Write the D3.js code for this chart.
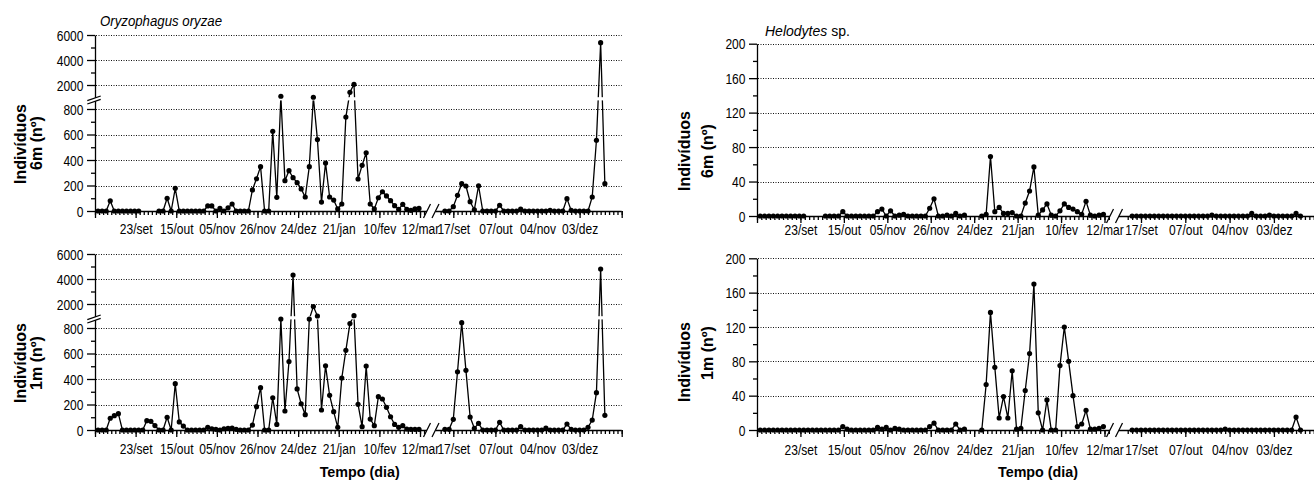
<!DOCTYPE html>
<html>
<head>
<meta charset="utf-8">
<title>Oryzophagus / Helodytes</title>
<script src="https://cdnjs.cloudflare.com/ajax/libs/d3/7.8.5/d3.min.js"></script>
<style>
    body {
        margin: 0px;
        background: white;
    }

    svg {
        font-family: "Liberation Sans", Arial, sans-serif;
    }

    .grid {
        stroke: #111;
        stroke-width: 1;
        stroke-dasharray: 1, 1.5;
    }

    .serie {
        fill: none;
        stroke: black;
        stroke-width: 1.3;
    }

    .axis path,
    .axis line,
    .eixo {
        stroke: black;
        stroke-width: 1.3;
    }

    .axis text {
        fill: black;
        font-size: 14.5px;
    }

    .rotulo {
        font-weight: bold;
        font-size: 16px;
    }
</style>
</head>

<body>
<svg id="chart" width="1314" height="482"></svg>

<script>
    // rotulos do eixo x (coleta 10, 20, ... do 1o periodo; 2, 12, ... do 2o)
    var labels1 = ["23/set", "15/out", "05/nov", "26/nov", "24/dez", "21/jan", "10/fev", "12/mar"]
    var labels2 = ["17/set", "07/out", "04/nov", "03/dez"]

    // Oryzophagus oryzae - 6m, periodo 1 (80 coletas) e periodo 2 (39 coletas)
    var oryza6m_a = [0, 0, 0, 80, 0, 0, 0, 0, 0, 0, 0, null, null, null, null,
        0, 0, 100, 0, 178, 0, 0, 0, 0, 0, 0, 0, 40, 40, 0, 20, 0, 25, 55, 0, 0, 0, 0,
        165, 253, 348, 0, 0, 625, 107, 1100, 238, 316, 261, 222, 173, 110, 348,
        1020, 560, 70, 376, 110, 86, 16, 55, 737, 1416, 2056, 251, 358, 457, 55, 16,
        104, 151, 118, 81, 42, 13, 52, 13, 5, 16, 20]
    var oryza6m_b = [0, 0, 34, 123, 214, 196, 73, 10, 198, 0, 0, 0, 0, 45, 0, 0, 0, 0, 15,
        0, 0, 0, 0, 0, 0, 5, 0, 0, 0, 97, 5, 0, 0, 0, 0, 110, 555, 5384, 214]

    // Oryzophagus oryzae - 1m
    var oryza1m_a = [0, 0, 0, 92, 112, 128, 0, 0, 0, 0, 0, 0, 73, 68, 35, 0, 0, 100, 0, 363,
        63, 31, 0, 0, 0, 0, 0, 21, 10, 5, 0, 10, 12, 15, 5, 0, 0, 0, 39, 183, 332, 0, 0,
        253, 44, 870, 149, 537, 4320, 322, 206, 120, 870, 1800, 1040, 157, 503, 272,
        144, 21, 408, 625, 835, 1064, 201, 26, 502, 86, 34, 261, 243, 178, 104, 44, 21,
        34, 8, 5, 5, 5]
    var oryza1m_b = [5, 5, 84, 457, 842, 468, 102, 13, 52, 0, 0, 0, 0, 60, 0, 0, 0, 0, 26,
        0, 0, 0, 0, 0, 15, 0, 0, 0, 0, 47, 5, 0, 0, 0, 21, 78, 293, 4800, 115]

    // Helodytes sp. - 6m
    var helo6m_a = [0, 0, 0, 0, 0, 0, 0, 0, 0, 0, 0, null, null, null, null,
        0, 0, 0, 0, 5, 0, 0, 0, 0, 0, 0, 0, 5, 8, 0, 6, 0, 1, 2, 0, 0, 0, 0, 0, 9, 20,
        0, 0, 1, 0, 3, 0, 1, null, null, null, 0, 2, 69, 5, 10, 3, 3, 4, 0, 0, 15, 29,
        57, 1, 7, 14, 1, 0, 6, 14, 10, 8, 5, 2, 17, 1, 0, 1, 2]
    var helo6m_b = [0, 0, 0, 0, 0, 0, 0, 0, 0, 0, 0, 0, 0, 0, 0, 0, 0, 0, 1, 0,
        0, 0, 0, 0, 0, 0, 0, 3, 0, 0, 0, 1, 0, 0, 0, 0, 0, 3, 0]

    // Helodytes sp. - 1m
    var helo1m_a = [0, 0, 0, 0, 0, 0, 0, 0, 0, 0, 0, 0, 0, 0, 0, 0, 0, 0, 0, 4, 1,
        0, 0, 0, 0, 0, 0, 3, 1, 3, 0, 2, 1, 0, 0, 0, 0, 0, 0, 4, 8, 0, 0, 0, 0, 7, 0, 1,
        null, null, null, 0, 53, 137, 73, 14, 39, 14, 69, 1, 2, 46, 89, 170, 20, 0, 35,
        0, 0, 75, 120, 80, 40, 4, 7, 23, 1, 1, 2, 4]
    var helo1m_b = [0, 0, 0, 0, 0, 0, 0, 0, 0, 0, 0, 0, 0, 0, 0, 0, 0, 0, 0, 0,
        0, 1, 0, 0, 0, 0, 0, 0, 0, 0, 0, 0, 0, 0, 0, 0, 0, 15, 0]

    var ticksOry = [0, 200, 400, 600, 800, 2000, 4000, 6000]
    var minorOry = [100, 300, 500, 700, 3000, 5000]
    var gridOry = [200, 400, 600, 800, 2000, 4000, 6000]
    var ticksHel = [0, 40, 80, 120, 160, 200]
    var minorHel = [20, 60, 100, 140, 180]
    var gridHel = [40, 80, 120, 160, 200]

    var svg = d3.select("#chart")

    // escalas x: periodo 1 e periodo 2 (com quebra)
    var x1L = d3.scaleLinear().domain([0, 80]).range([95, 420])
    var x2L = d3.scaleLinear().domain([2, 42]).range([453.3, 621.7])
    var x1R = d3.scaleLinear().domain([0, 80]).range([757, 1104.5])
    var x2R = d3.scaleLinear().domain([2, 42]).range([1141, 1318.2])

    // escala y com quebra (0-880 | 1000-6000)
    function yOry(top) {
        return d3.scaleLinear().domain([0, 880, 1000, 6000])
            .range([211 + top, 98.8 + top, 97.5 + top, 35 + top])
    }

    drawPanel({
        x1: x1L, x2: x2L, y: yOry(0), yTicks: ticksOry, yMinor: minorOry, grid: gridOry,
        gridEnd: 621.7, cut: [427, 435.5], slash: [423.5, 432], lblDy: 23, broken: true,
        a: oryza6m_a, b: oryza6m_b
    })
    drawPanel({
        x1: x1L, x2: x2L, y: yOry(219), yTicks: ticksOry, yMinor: minorOry, grid: gridOry,
        gridEnd: 621.7, cut: [427, 435.5], slash: [423.5, 432], lblDy: 24, broken: true,
        a: oryza1m_a, b: oryza1m_b
    })
    drawPanel({
        x1: x1R, x2: x2R, y: d3.scaleLinear().domain([0, 200]).range([216, 43.7]),
        yTicks: ticksHel, yMinor: minorHel, grid: gridHel,
        gridEnd: 1314, cut: [1110, 1119], slash: [1106.5, 1115.5], lblDy: 19, broken: false,
        a: helo6m_a, b: helo6m_b
    })
    drawPanel({
        x1: x1R, x2: x2R, y: d3.scaleLinear().domain([0, 200]).range([430, 258.3]),
        yTicks: ticksHel, yMinor: minorHel, grid: gridHel,
        gridEnd: 1314, cut: [1110, 1119], slash: [1106.5, 1115.5], lblDy: 24.5, broken: false,
        a: helo1m_a, b: helo1m_b
    })

    function drawPanel(o) {
        var g = svg.append("g")
        var x0 = o.x1(0)
        var ay = o.y(0)

        // grade pontilhada
        g.selectAll(".grid")
            .data(o.grid)
            .join("line")
            .attr("class", "grid")
            .attr("x1", x0 + 1)
            .attr("x2", o.gridEnd)
            .attr("y1", d => Math.round(o.y(d)) + 0.5)
            .attr("y2", d => Math.round(o.y(d)) + 0.5)

        // eixo y
        var ya = g.append("g")
            .attr("class", "axis")
            .attr("transform", "translate(" + x0 + ",0)")
            .call(d3.axisLeft(o.y).tickValues(o.yTicks).tickSize(8).tickSizeOuter(0)
                .tickFormat(d3.format("d")))
        ya.attr("font-family", null).attr("font-size", null)
        ya.selectAll("text")
            .attr("x", null)
            .attr("dy", "0.36em")
            .attr("transform", "translate(-11.5,0) scale(0.83,1)")

        g.append("g")
            .attr("class", "axis")
            .attr("transform", "translate(" + x0 + ",0)")
            .call(d3.axisLeft(o.y).tickValues(o.yMinor).tickSize(4).tickFormat(""))
            .select(".domain").remove()

        // eixo x - periodo 1
        var xa1 = g.append("g")
            .attr("class", "axis")
            .attr("transform", "translate(0," + ay + ")")
            .call(d3.axisBottom(o.x1).tickValues(d3.range(0, 81, 10)).tickSize(7)
                .tickFormat(d => d === 0 ? "" : labels1[d / 10 - 1]))
        g.append("g")
            .attr("class", "axis")
            .attr("transform", "translate(0," + ay + ")")
            .call(d3.axisBottom(o.x1).tickValues(d3.range(0, 82)).tickSize(4).tickFormat(""))
            .select(".domain").remove()

        // eixo x - periodo 2
        var xa2 = g.append("g")
            .attr("class", "axis")
            .attr("transform", "translate(0," + ay + ")")
            .call(d3.axisBottom(o.x2).tickValues([2, 12, 22, 32, 42]).tickSize(7)
                .tickFormat(d => labels2[(d - 2) / 10] || ""))
        g.append("g")
            .attr("class", "axis")
            .attr("transform", "translate(0," + ay + ")")
            .call(d3.axisBottom(o.x2).tickValues(d3.range(-1, 43)).tickSize(4).tickFormat(""))
            .select(".domain").remove()

        ;[xa1, xa2].forEach(function (xa) {
            xa.attr("font-family", null).attr("font-size", null)
            xa.select(".domain").remove()
            xa.selectAll("text")
                .attr("y", null)
                .attr("dy", null)
                .attr("transform", "translate(0," + o.lblDy + ") scale(0.83,1)")
        })

        var ly = Math.round(ay) + 0.5
        g.append("line").attr("class", "eixo")
            .attr("x1", x0).attr("x2", o.cut[0]).attr("y1", ly).attr("y2", ly)
        g.append("line").attr("class", "eixo")
            .attr("x1", o.cut[1]).attr("x2", Math.min(o.x2(42), 1314)).attr("y1", ly).attr("y2", ly)

        // barras da quebra do eixo x
        o.slash.forEach(function (sx) {
            g.append("line").attr("class", "eixo")
                .attr("x1", sx).attr("y1", ay + 7)
                .attr("x2", sx + 7).attr("y2", ay - 7)
        })

        // series
        var line = d3.line()
            .defined(d => d.v != null)
            .x(d => d.x)
            .y(d => o.y(d.v))

        var ptsA = o.a.map((v, k) => ({ x: o.x1(k + 0.75), v: v }))
        var ptsB = o.b.map((v, m) => ({ x: o.x2(m), v: v }))

        ;[ptsA, ptsB].forEach(function (pts) {
            g.append("path").attr("class", "serie").attr("d", line(pts))
        })

        if (o.broken) {
            // faixa branca da quebra do eixo y (corta as linhas)
            var yb = o.y(1000)
            g.append("rect")
                .attr("x", x0 + 1.5)
                .attr("y", yb - 0.3)
                .attr("width", o.gridEnd - x0)
                .attr("height", 3.2)
                .attr("fill", "white")

            g.append("path")
                .attr("d", "M" + (x0 - 7.7) + "," + (yb + 3.2) + "L" + (x0 + 5.7) + "," + (yb - 1.5) +
                    "L" + (x0 + 5.7) + "," + (yb + 1.8) + "L" + (x0 - 7.7) + "," + (yb + 6.5) + "Z")
                .attr("fill", "white")
            ;[[3.2, -1.5], [6.5, 1.8]].forEach(function (p) {
                g.append("line").attr("class", "eixo")
                    .attr("x1", x0 - 7.7).attr("y1", yb + p[0])
                    .attr("x2", x0 + 5.7).attr("y2", yb + p[1])
            })
        }

        ;[ptsA, ptsB].forEach(function (pts) {
            g.append("g")
                .selectAll("circle")
                .data(pts.filter(d => d.v != null))
                .join("circle")
                .attr("cx", d => d.x)
                .attr("cy", d => o.y(d.v))
                .attr("r", 2.6)
                .attr("fill", "black")
        })
    }

    // titulos
    svg.append("text")
        .attr("x", 100).attr("y", 25.5)
        .attr("font-size", 14).attr("font-style", "italic")
        .attr("textLength", 122).attr("lengthAdjust", "spacingAndGlyphs")
        .text("Oryzophagus oryzae")

    var ht = svg.append("text").attr("x", 765).attr("y", 35.5).attr("font-size", 14)
    ht.append("tspan").attr("font-style", "italic").text("Helodytes")
    ht.append("tspan").text(" sp.")

    // rotulos dos eixos y
    var ylabels = [
        ["Indivíduos", 25.5, 144], ["6m (nº)", 42, 143],
        ["Indivíduos", 25.5, 363], ["1m (nº)", 42, 363],
        ["Indivíduos", 689.5, 151], ["6m (nº)", 713, 151],
        ["Indivíduos", 689.5, 362], ["1m (nº)", 713, 353]
    ]
    svg.selectAll(".rotulo")
        .data(ylabels)
        .join("text")
        .attr("class", "rotulo")
        .attr("text-anchor", "middle")
        .attr("transform", d => "translate(" + d[1] + "," + d[2] + ") rotate(-90)")
        .text(d => d[0])

    // rotulos do eixo x
    ;[359.7, 1038].forEach(function (cx) {
        svg.append("text")
            .attr("x", cx - 40).attr("y", 476.5)
            .attr("font-size", 15).attr("font-weight", "bold")
            .attr("textLength", 80).attr("lengthAdjust", "spacingAndGlyphs")
            .text("Tempo (dia)")
    })
</script>
</body>
</html>
